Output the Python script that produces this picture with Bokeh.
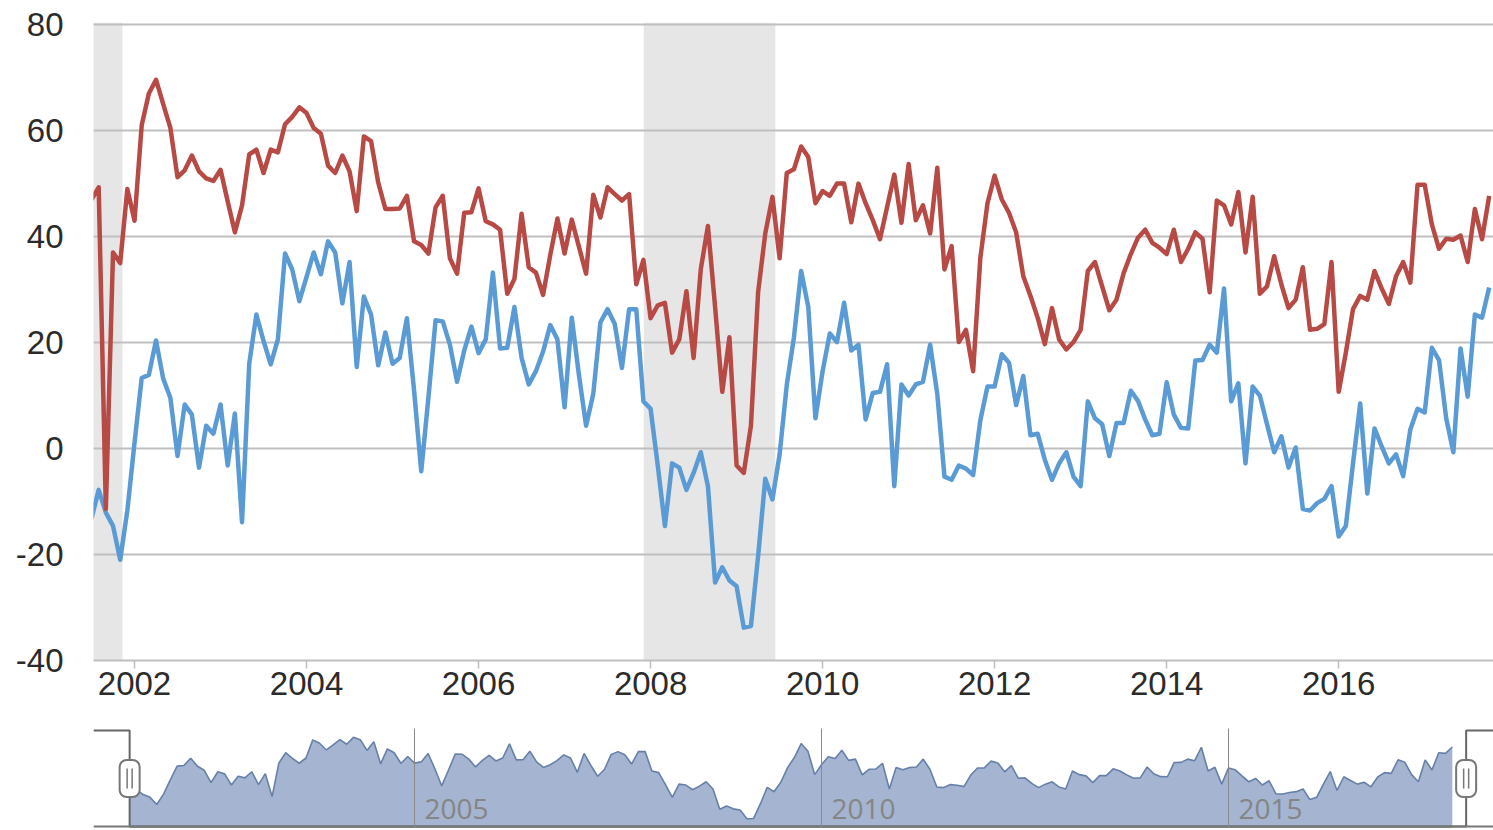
import numpy as np
from bokeh.plotting import figure
from bokeh.models import Range1d, FixedTicker, NumeralTickFormatter, BoxAnnotation, Grid, Label, Rect
from bokeh.layouts import column
from bokeh.embed import file_html
from bokeh.resources import INLINE

# ---------------- data (monthly, starting July 2001) ----------------
start_year = 2001
start_month = 7

red_series = [
    47, 49.3, -11.4, 37, 35, 49,
    43, 61, 67, 69.6, 65, 60.5, 51.2, 52.5, 55.3, 52.3, 51, 50.5,
    52.6, 46.6, 40.8, 45.9, 55.5, 56.4, 52, 56.4, 55.9, 61.2, 62.6, 64.4,
    63.3, 60.5, 59.4, 53.4, 52, 55.3, 52.3, 44.8, 58.9, 58, 50.2, 45.2,
    45.2, 45.3, 47.7, 39.1, 38.4, 36.8, 45.5, 47.7, 35.9, 33, 44.5, 44.6,
    49.1, 42.9, 42.3, 41.3, 29.2, 32, 44.3, 34.2, 33.2, 29, 36.5, 43.4,
    36.8, 43.2, 38.1, 33, 47.9, 43.6, 49.3, 48, 46.8, 48, 31, 35.6,
    24.6, 27, 27.5, 18.1, 20.6, 29.7, 17.1, 33.8, 42, 26.7, 10.7, 21,
    -3.2, -4.6, 4.3, 29.5, 40.6, 47.5, 35.9, 52, 52.7, 57, 55, 46.3,
    48.6, 47.7, 50, 50, 42.7, 50, 46.3, 43.1, 39.5, 45.6, 51.7, 42.6,
    53.7, 43.1, 45.9, 40.6, 53, 33.8, 38.2, 20.1, 22.4, 14.6, 35.9, 46.3,
    51.5, 47, 44.5, 40.8, 32.5, 28.8, 24.7, 19.7, 26.5, 20.6, 18.7, 20.1,
    22.4, 33.5, 35.2, 30.6, 26.1, 28.1, 33.1, 36.7, 39.8, 41.3, 38.8, 37.9,
    36.7, 41.3, 35.2, 37.7, 40.8, 39.6, 29.5, 46.8, 45.9, 42.3, 48.4, 37,
    47.5, 29.2, 30.6, 36.3, 31, 26.5, 28.1, 34.2, 22.4, 22.6, 23.5, 35.2,
    10.7, 18.1, 26.3, 28.8, 28.1, 33.5, 30.2, 27.3, 32.5, 35.2, 31.3, 49.8,
    49.8, 42.3, 37.7, 39.6, 39.4, 40.2, 35.2, 45.2, 39.5, 47.7,
]

blue_series = [
    -13.2, -7.8, -12.1, -14.6, -21, -11.7,
    1.1, 13.3, 13.9, 20.4, 13.2, 9.6, -1.4, 8.3, 6.4, -3.6, 4.3, 2.8,
    8.3, -3.2, 6.6, -13.9, 16, 25.3, 20.3, 15.9, 20.6, 36.8, 33.8, 27.8,
    32.4, 37, 32.9, 39.1, 37, 27.4, 35.2, 15.4, 28.7, 25.3, 15.7, 21.9,
    16, 17.1, 24.6, 11, -4.3, 9.6, 24.2, 24, 19.6, 12.6, 18.5, 23,
    18, 20.6, 33.2, 18.9, 19, 26.7, 17.1, 12.1, 14.6, 18.3, 23.3, 20.6,
    7.8, 24.7, 13.9, 4.3, 10.3, 23.8, 26.3, 23.5, 15.2, 26.3, 26.3, 8.9,
    7.5, -3.2, -14.6, -2.8, -3.6, -7.8, -4.6, -0.7, -7.1, -25.3, -22.4, -24.9,
    -26, -33.8, -33.5, -20.3, -5.7, -9.6, -1.1, 12, 21, 33.5, 26.7, 5.7,
    14.6, 21.7, 20.1, 27.5, 18.5, 19.6, 5.5, 10.5, 10.7, 15.9, -7.1, 12.1,
    10, 12.1, 12.6, 19.6, 10.3, -5.3, -5.9, -3.2, -3.8, -5, 5.3, 11.7,
    11.7, 17.8, 16.2, 8.2, 13.7, 2.5, 2.8, -2.1, -5.9, -2.8, -0.7, -5.3,
    -7.1, 8.9, 5.7, 4.6, -1.4, 4.8, 4.8, 10.9, 9, 5.5, 2.5, 2.8,
    12.5, 6.4, 3.9, 3.8, 16.6, 16.7, 19.6, 18.1, 30.2, 8.9, 12.3, -2.8,
    11.7, 10, 4.6, -0.7, 2.3, -3.6, 0.2, -11.4, -11.7, -10.3, -9.5, -7.1,
    -16.6, -14.6, -2.8, 8.5, -8.5, 3.8, 0.4, -2.8, -1.1, -5.2, 3.6, 7.5,
    6.8, 19, 16.7, 5.7, -0.7, 18.9, 9.8, 25.3, 24.7, 30.4,
]

recessions = [(2001.17, 2001.86), (2007.92, 2009.45)]
x_tick_years = [2002, 2004, 2006, 2008, 2010, 2012, 2014, 2016]
y_tick_values = [-40, -20, 0, 20, 40, 60, 80]
nav_tick_years = [2005, 2010, 2015]
selection_end = 2017.92

x = [start_year + (start_month - 1) / 12 + i / 12 for i in range(len(red_series))]

FONT = "Liberation Sans"
GRID = "#bfbfbf"
W = 1493

# ---------------- main chart ----------------
p = figure(width=W, height=720,
           x_range=Range1d(2001.523, 2017.80), y_range=Range1d(-40, 80.4),
           output_backend="svg", toolbar_location=None,
           min_border_left=93, min_border_right=0, min_border_top=22, min_border_bottom=60)
p.outline_line_color = None
p.background_fill_color = "white"
p.border_fill_color = "white"

for lo, hi in recessions:
    p.add_layout(BoxAnnotation(left=lo, right=hi, fill_color="#e6e6e6", fill_alpha=1.0,
                               line_color=None, level="image"))

p.xgrid.visible = False
p.ygrid.ticker = FixedTicker(ticks=y_tick_values)
p.ygrid.grid_line_color = GRID
p.ygrid.grid_line_width = 2

p.yaxis.ticker = FixedTicker(ticks=y_tick_values)
p.yaxis.major_label_overrides = {v: str(v) for v in y_tick_values}
p.yaxis.axis_line_color = None
p.yaxis.major_tick_line_color = None
p.yaxis.minor_tick_line_color = None
p.yaxis.major_tick_out = 0
p.yaxis.major_label_standoff = 30
p.yaxis.major_label_text_font = FONT
p.yaxis.major_label_text_font_size = "33px"
p.yaxis.major_label_text_color = "#2b2b2b"

p.xaxis.ticker = FixedTicker(ticks=x_tick_years)
p.xaxis.formatter = NumeralTickFormatter(format="0")
p.xaxis.axis_line_color = GRID
p.xaxis.axis_line_width = 2
p.xaxis.major_tick_line_color = GRID
p.xaxis.major_tick_line_width = 1.5
p.xaxis.major_tick_in = 0
p.xaxis.major_tick_out = 8
p.xaxis.minor_tick_line_color = None
p.xaxis.major_label_standoff = 3
p.xaxis.major_label_text_font = FONT
p.xaxis.major_label_text_font_size = "33px"
p.xaxis.major_label_text_color = "#2b2b2b"

p.line(x, blue_series, line_color="#5b9bd5", line_width=4.5, line_join="round")
p.line(x, red_series, line_color="#b84a46", line_width=4.5, line_join="round")

# ---------------- navigator ----------------
nav_x0, nav_x1 = 2001.056, 2018.256
nav_y0, nav_y1 = -42.49, 46.99
nav_top, nav_bot = 45.2, -40.7
NAV_FRAME_W, NAV_FRAME_H = 1400.0, 100.0
nav = figure(width=W, height=108,
             x_range=Range1d(nav_x0, nav_x1), y_range=Range1d(nav_y0, nav_y1),
             x_axis_type=None, y_axis_type=None,
             output_backend="svg", toolbar_location=None,
             min_border_left=93, min_border_right=0, min_border_top=8, min_border_bottom=0)
nav.outline_line_color = None
nav.background_fill_color = "white"
nav.border_fill_color = "white"

nav.varea(x=x, y1=nav_y0, y2=blue_series, fill_color="#a4b4d1", fill_alpha=1.0)
nav.line(x, blue_series, line_color="#6780a9", line_width=1.6)

g = Grid(dimension=0, ticker=FixedTicker(ticks=nav_tick_years),
         grid_line_color="#8a8a8a", grid_line_width=1, level="annotation")
nav.add_layout(g)

py = (nav_y1 - nav_y0) / NAV_FRAME_H
px = (nav_x1 - nav_x0) / NAV_FRAME_W
label_y = nav_bot + 17 * py
for t in nav_tick_years:
    nav.add_layout(Label(x=t, y=label_y, x_offset=10, text=str(t),
                         text_font="Open Sans", text_font_size="28px",
                         text_color="#858585", text_baseline="middle"))

sel_lo, sel_hi = x[0], selection_end
nav.line([nav_x0, sel_lo, sel_lo, sel_hi, sel_hi, nav_x1],
         [nav_top, nav_top, nav_bot, nav_bot, nav_top, nav_top],
         line_color="#666666", line_width=2)
nav.line([nav_x0, nav_x1], [nav_bot, nav_bot], line_color="#777777", line_width=2)

mid = (nav_top + nav_bot) / 2
rkw = {"border_radius": 7} if "border_radius" in Rect.properties() else {}
nav.rect(x=[sel_lo, sel_hi], y=[mid, mid], width=20, height=37,
         width_units="screen", height_units="screen",
         fill_color="white", line_color="#777777", line_width=2, **rkw)
gx = []
for h in (sel_lo, sel_hi):
    for off in (-2.5, 2.5):
        gx.append(h + off * px)
nav.segment(x0=gx, y0=[mid - 10 * py] * 4, x1=gx, y1=[mid + 10 * py] * 4,
            line_color="#777777", line_width=1.5)

layout = column(p, nav, spacing=0)
open("out.html", "w").write(file_html(layout, INLINE))
